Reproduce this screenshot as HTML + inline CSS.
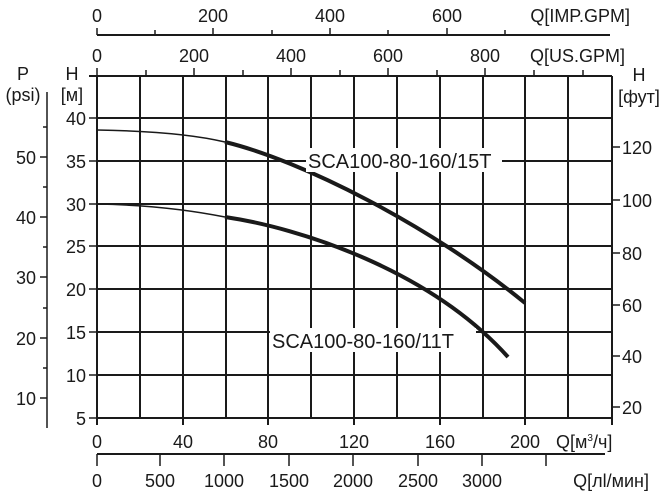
<!DOCTYPE html>
<html><head><meta charset="utf-8"><style>
html,body{margin:0;padding:0;background:#fff;}
svg text{font-family:"Liberation Sans",Arial,sans-serif;fill:#1a1a1a;}
</style></head><body>
<svg width="663" height="497" viewBox="0 0 663 497" xmlns="http://www.w3.org/2000/svg">
<g stroke="#1a1a1a" fill="none">
<line x1="97" y1="35" x2="610" y2="35" stroke-width="2"/>
<g stroke-width="1.5">
<line x1="97" y1="28" x2="97" y2="35"/><line x1="155" y1="30" x2="155" y2="35"/>
<line x1="213" y1="28" x2="213" y2="35"/><line x1="272" y1="30" x2="272" y2="35"/>
<line x1="330" y1="28" x2="330" y2="35"/><line x1="388" y1="30" x2="388" y2="35"/>
<line x1="447" y1="28" x2="447" y2="35"/><line x1="505" y1="30" x2="505" y2="35"/>
</g>
<g stroke-width="1.5">
<line x1="97" y1="68" x2="97" y2="76"/><line x1="146" y1="70" x2="146" y2="76"/>
<line x1="194" y1="68" x2="194" y2="76"/><line x1="243" y1="70" x2="243" y2="76"/>
<line x1="291" y1="68" x2="291" y2="76"/><line x1="340" y1="70" x2="340" y2="76"/>
<line x1="388" y1="68" x2="388" y2="76"/><line x1="437" y1="70" x2="437" y2="76"/>
<line x1="485" y1="68" x2="485" y2="76"/><line x1="534" y1="70" x2="534" y2="76"/>
<line x1="583" y1="70" x2="583" y2="76"/>
</g>
<g stroke-width="2">
<line x1="89" y1="76" x2="612" y2="76"/>
<line x1="97" y1="118" x2="612" y2="118"/>
<line x1="97" y1="161" x2="612" y2="161"/>
<line x1="97" y1="204" x2="612" y2="204"/>
<line x1="97" y1="246" x2="612" y2="246"/>
<line x1="97" y1="289" x2="612" y2="289"/>
<line x1="97" y1="332" x2="612" y2="332"/>
<line x1="97" y1="375" x2="612" y2="375"/>
<line x1="97" y1="418" x2="612" y2="418"/>
<line x1="97" y1="76" x2="97" y2="425"/>
<line x1="140" y1="76" x2="140" y2="418"/>
<line x1="183" y1="76" x2="183" y2="425"/>
<line x1="226" y1="76" x2="226" y2="418"/>
<line x1="268" y1="76" x2="268" y2="425"/>
<line x1="311" y1="76" x2="311" y2="418"/>
<line x1="354" y1="76" x2="354" y2="425"/>
<line x1="397" y1="76" x2="397" y2="418"/>
<line x1="440" y1="76" x2="440" y2="425"/>
<line x1="483" y1="76" x2="483" y2="418"/>
<line x1="525" y1="76" x2="525" y2="425"/>
<line x1="568" y1="76" x2="568" y2="418"/>
<line x1="612" y1="76" x2="612" y2="425"/>
</g>
<g stroke-width="1.5">
<line x1="89" y1="118" x2="97" y2="118"/><line x1="89" y1="161" x2="97" y2="161"/>
<line x1="89" y1="204" x2="97" y2="204"/><line x1="89" y1="246" x2="97" y2="246"/>
<line x1="89" y1="289" x2="97" y2="289"/><line x1="89" y1="332" x2="97" y2="332"/>
<line x1="89" y1="375" x2="97" y2="375"/><line x1="89" y1="418" x2="97" y2="418"/>
</g>
<line x1="47" y1="92" x2="47" y2="428" stroke-width="1.5"/>
<g stroke-width="1.5">
<line x1="43" y1="127" x2="47" y2="127"/>
<line x1="40" y1="157" x2="47" y2="157"/><line x1="43" y1="187" x2="47" y2="187"/>
<line x1="40" y1="217" x2="47" y2="217"/><line x1="43" y1="247" x2="47" y2="247"/>
<line x1="40" y1="277" x2="47" y2="277"/><line x1="43" y1="308" x2="47" y2="308"/>
<line x1="40" y1="338" x2="47" y2="338"/><line x1="43" y1="368" x2="47" y2="368"/>
<line x1="40" y1="398" x2="47" y2="398"/>
</g>
<g stroke-width="1.5">
<line x1="612" y1="147" x2="620" y2="147"/><line x1="612" y1="200" x2="620" y2="200"/>
<line x1="612" y1="253" x2="620" y2="253"/><line x1="612" y1="305" x2="620" y2="305"/>
<line x1="612" y1="356" x2="620" y2="356"/><line x1="612" y1="407" x2="620" y2="407"/>
</g>
<line x1="97" y1="454" x2="605" y2="454" stroke-width="2"/>
<g stroke-width="1.5">
<line x1="97" y1="454" x2="97" y2="466"/><line x1="160" y1="454" x2="160" y2="466"/>
<line x1="224" y1="454" x2="224" y2="466"/><line x1="289" y1="454" x2="289" y2="466"/>
<line x1="353" y1="454" x2="353" y2="466"/><line x1="418" y1="454" x2="418" y2="466"/>
<line x1="482" y1="454" x2="482" y2="466"/><line x1="546" y1="454" x2="546" y2="466"/>
</g>
<path d="M97,130 C160,131 200,136 225,142" stroke-width="1.5"/>
<path d="M225,142 C300,160 430,225 525,303" stroke-width="4"/>
<path d="M97,204 C150,205 190,210 225,217" stroke-width="1.5"/>
<path d="M225,217 C300,228 430,270 508,357" stroke-width="4"/>
</g>
<rect x="306" y="148" width="196" height="24" fill="#fff"/>
<text x="308" y="168" font-size="20">SCA100-80-160/15T</text>
<rect x="270" y="328" width="206" height="24" fill="#fff"/>
<text x="272" y="348" font-size="20">SCA100-80-160/11T</text>
<g font-size="18">
<text x="97" y="22" text-anchor="middle">0</text>
<text x="213" y="22" text-anchor="middle">200</text>
<text x="330" y="22" text-anchor="middle">400</text>
<text x="447" y="22" text-anchor="middle">600</text>
<text x="630" y="22" text-anchor="end">Q[IMP.GPM]</text>
<text x="97" y="62" text-anchor="middle">0</text>
<text x="194" y="62" text-anchor="middle">200</text>
<text x="291" y="62" text-anchor="middle">400</text>
<text x="388" y="62" text-anchor="middle">600</text>
<text x="485" y="62" text-anchor="middle">800</text>
<text x="625" y="62" text-anchor="end">Q[US.GPM]</text>
<text x="23" y="80" text-anchor="middle">P</text>
<text x="23" y="101" text-anchor="middle">(psi)</text>
<text x="72" y="80" text-anchor="middle">H</text>
<text x="72" y="101" text-anchor="middle">[м]</text>
<text x="639" y="81" text-anchor="middle">H</text>
<text x="639" y="103" text-anchor="middle">[фут]</text>
<g text-anchor="end">
<text x="86" y="125">40</text><text x="86" y="168">35</text><text x="86" y="211">30</text>
<text x="86" y="253">25</text><text x="86" y="296">20</text><text x="86" y="339">15</text>
<text x="86" y="382">10</text><text x="86" y="425">5</text>
<text x="36" y="164">50</text><text x="36" y="224">40</text><text x="36" y="284">30</text>
<text x="36" y="345">20</text><text x="36" y="405">10</text>
</g>
<text x="622" y="154">120</text><text x="622" y="207">100</text><text x="622" y="260">80</text>
<text x="622" y="312">60</text><text x="622" y="363">40</text><text x="622" y="414">20</text>
<text x="97" y="448" text-anchor="middle">0</text>
<text x="183" y="448" text-anchor="middle">40</text>
<text x="268" y="448" text-anchor="middle">80</text>
<text x="354" y="448" text-anchor="middle">120</text>
<text x="440" y="448" text-anchor="middle">160</text>
<text x="525" y="448" text-anchor="middle">200</text>
<text x="556" y="448">Q[м<tspan font-size="10" dy="-7">3</tspan><tspan dy="7">/ч]</tspan></text>
<text x="97" y="487" text-anchor="middle">0</text>
<text x="160" y="487" text-anchor="middle">500</text>
<text x="224" y="487" text-anchor="middle">1000</text>
<text x="289" y="487" text-anchor="middle">1500</text>
<text x="353" y="487" text-anchor="middle">2000</text>
<text x="418" y="487" text-anchor="middle">2500</text>
<text x="482" y="487" text-anchor="middle">3000</text>
<text x="649" y="487" text-anchor="end">Q[лl/мин]</text>
</g>
</svg>
</body></html>
